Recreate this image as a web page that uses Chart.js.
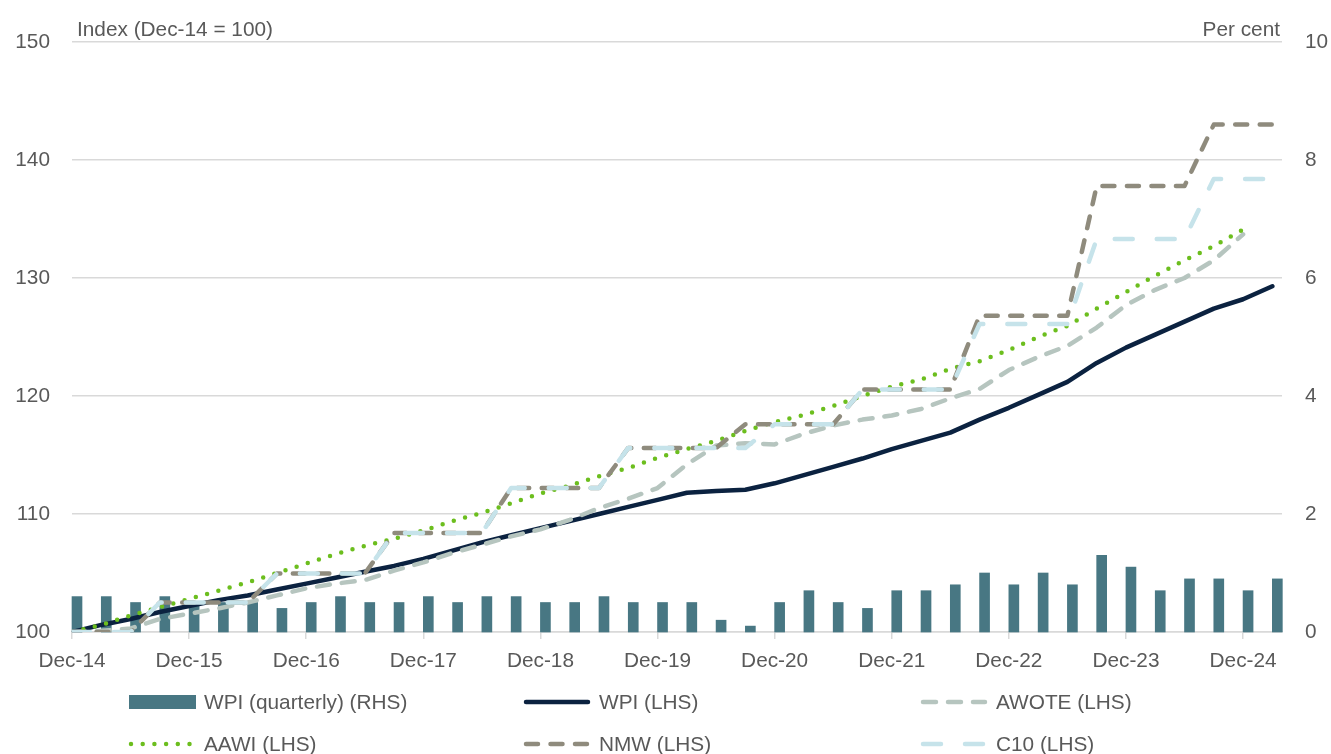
<!DOCTYPE html>
<html>
<head>
<meta charset="utf-8">
<script src="https://cdn.jsdelivr.net/npm/chart.js@4.4.1/dist/chart.umd.min.js"></script>
<style>
  html, body { margin: 0; padding: 0; background: #ffffff; }
  #wrap { position: relative; width: 1331px; height: 754px; }
</style>
</head>
<body>
<div id="wrap"><canvas id="c" width="1331" height="754"></canvas></div>
<script>
// ---------- DATA ----------
const quarters = [
  'Dec-14','Mar-15','Jun-15','Sep-15','Dec-15','Mar-16','Jun-16','Sep-16','Dec-16',
  'Mar-17','Jun-17','Sep-17','Dec-17','Mar-18','Jun-18','Sep-18','Dec-18',
  'Mar-19','Jun-19','Sep-19','Dec-19','Mar-20','Jun-20','Sep-20','Dec-20',
  'Mar-21','Jun-21','Sep-21','Dec-21','Mar-22','Jun-22','Sep-22','Dec-22',
  'Mar-23','Jun-23','Sep-23','Dec-23','Mar-24','Jun-24','Sep-24','Dec-24','Mar-25'
];
const tickLabels = ['Dec-14','Dec-15','Dec-16','Dec-17','Dec-18','Dec-19','Dec-20','Dec-21','Dec-22','Dec-23','Dec-24'];

const wpiQuarterly = [0.6,0.6,0.5,0.6,0.5,0.5,0.5,0.4,0.5,0.6,0.5,0.5,0.6,0.5,0.6,0.6,0.5,0.5,0.6,0.5,0.5,
                      0.5,0.2,0.1,0.5,0.7,0.5,0.4,0.7,0.7,0.8,1.0,0.8,1.0,0.8,1.3,1.1,0.7,0.9,0.9,0.7,0.9];
const wpi   = [100,100.6,101.1,101.7,102.2,102.7,103.1,103.6,104.1,104.6,105.1,105.6,106.2,106.9,107.6,108.2,
               108.8,109.4,110.0,110.6,111.2,111.8,111.95,112.05,112.6,113.3,114.0,114.7,115.5,116.2,116.9,
               118.0,119.0,120.1,121.2,122.8,124.1,125.2,126.3,127.4,128.2,129.3];
const awote = [100,100.1,100.3,101.1,101.55,102.0,102.5,103.1,103.7,104.1,104.4,105.2,105.9,106.7,107.4,108.1,
               108.7,109.5,110.5,111.3,112.2,114.2,115.8,116.0,115.9,116.8,117.5,118.0,118.35,118.9,119.8,
               120.6,122.2,123.3,124.25,125.8,127.7,129.0,130.0,131.5,133.7,null];
const aawi  = [100,100.6,101.4,102.1,102.8,103.5,104.2,105.0,105.8,106.6,107.3,107.9,108.6,109.4,110.1,110.9,
               111.75,112.4,113.2,113.9,114.75,115.5,116.2,117.05,117.8,118.4,119.15,120.0,120.8,121.4,122.3,
               122.95,123.9,125.0,125.95,127.4,128.8,130.2,131.5,132.7,134.1,null];
const nmw   = [100,100,100,102.5,102.5,102.5,102.5,104.95,104.95,104.95,104.95,108.4,108.4,108.4,108.4,
               112.2,112.2,112.2,112.2,115.6,115.6,115.6,115.6,117.6,117.6,117.6,117.6,120.55,120.55,120.55,120.55,
               126.8,126.8,126.8,126.8,137.8,137.8,137.8,137.8,143.0,143.0,143.0];
const c10   = [100,100,100,102.5,102.5,102.5,102.5,104.95,104.95,104.95,104.95,108.4,108.4,108.4,108.4,
               112.2,112.2,112.2,112.2,115.6,115.6,115.6,115.6,115.6,117.6,117.6,117.6,120.55,120.55,120.55,120.55,
               126.1,126.1,126.1,126.1,133.3,133.3,133.3,133.3,138.4,138.4,138.4];

const leftTitle = 'Index (Dec-14 = 100)';
const rightTitle = 'Per cent';

// ---------- STYLE ----------
const FONT = '"Liberation Sans", Arial, sans-serif';
const FS = 20.8;
const TXT = '#595959';
const GRID = '#D9D9D9';
const BAR_SHIFT_PX = 5;   // bars sit just right of each quarter's point, as in the original

const pts = arr => arr.map((v, i) => ({ x: i, y: v }));
const tickIdx = tickLabels.map(t => quarters.indexOf(t));

Chart.defaults.font.family = FONT;
Chart.defaults.font.size = FS;
Chart.defaults.color = TXT;

const lineBase = { type: 'line', pointRadius: 0, pointHoverRadius: 0, borderWidth: 4.5, tension: 0,
                   yAxisID: 'y', xAxisID: 'x', fill: false, borderJoinStyle: 'round', borderCapStyle: 'round' };

const datasets = [
  { type: 'bar', label: 'WPI (quarterly) (RHS)', data: pts(wpiQuarterly), backgroundColor: '#487783',
    barThickness: 10, yAxisID: 'y1', xAxisID: 'x', order: 10, clip: false },
  { ...lineBase, label: 'WPI (LHS)', data: pts(wpi), borderColor: '#0B2240', order: 6 },
  { ...lineBase, label: 'AWOTE (LHS)', data: pts(awote), borderColor: '#B6C5BF', borderDash: [13, 12], order: 5 },
  { ...lineBase, label: 'AAWI (LHS)', data: pts(aawi), borderColor: '#6CBE1E', borderDash: [0, 11.7], order: 4 },
  { ...lineBase, label: 'NMW (LHS)', data: pts(nmw), borderColor: '#8F8B7D', borderDash: [12, 12.5], order: 3 },
  { ...lineBase, label: 'C10 (LHS)', data: pts(c10), borderColor: '#C6E3EA', borderDash: [18, 24], order: 2 }
];

const legendCols = [129, 524, 921];
const legendRows = [702, 744];

const barShift = {
  id: 'barShift',
  beforeDatasetDraw(chart, args) {
    if (args.meta.type === 'bar') { chart.ctx.save(); chart.ctx.translate(BAR_SHIFT_PX, 0); }
  },
  afterDatasetDraw(chart, args) {
    if (args.meta.type === 'bar') { chart.ctx.restore(); }
  }
};

const overlay = {
  id: 'overlay',
  afterDraw(chart) {
    const ctx = chart.ctx;
    ctx.save();
    ctx.font = FS + 'px ' + FONT;
    ctx.fillStyle = TXT;
    ctx.textBaseline = 'alphabetic';
    ctx.textAlign = 'left';
    ctx.fillText(leftTitle, 77, 36);
    ctx.textAlign = 'right';
    ctx.fillText(rightTitle, 1280, 36);
    ctx.textAlign = 'left';
    chart.data.datasets.forEach((ds, k) => {
      const x = legendCols[k % 3];
      const y = legendRows[Math.floor(k / 3)];
      if (ds.type === 'bar') {
        ctx.fillStyle = ds.backgroundColor;
        ctx.fillRect(x, y - 7, 67, 14);
      } else {
        ctx.strokeStyle = ds.borderColor;
        ctx.lineWidth = ds.borderWidth;
        ctx.lineCap = ds.borderCapStyle || 'butt';
        ctx.setLineDash(ds.borderDash || []);
        ctx.beginPath();
        ctx.moveTo(x + 2, y);
        ctx.lineTo(x + 64, y);
        ctx.stroke();
        ctx.setLineDash([]);
      }
      ctx.fillStyle = TXT;
      ctx.fillText(ds.label, x + 75, y + 7);
    });
    ctx.restore();
  }
};

new Chart(document.getElementById('c').getContext('2d'), {
  data: { datasets },
  options: {
    responsive: false,
    animation: false,
    devicePixelRatio: 1,
    layout: { padding: { top: 42, left: 0, right: 0, bottom: 0 } },
    plugins: { legend: { display: false }, tooltip: { enabled: false } },
    scales: {
      x: {
        type: 'linear', position: 'bottom', min: 0, max: 41.33, offset: false,
        afterBuildTicks: s => { s.ticks = tickIdx.map(v => ({ value: v })); },
        ticks: { callback: v => quarters[v], color: TXT, font: { size: FS }, padding: 10,
                 maxRotation: 0, autoSkip: false },
        grid: { drawOnChartArea: false, color: GRID, lineWidth: 1.5, tickLength: 7, offset: false },
        border: { display: true, color: GRID, width: 1.5 },
        afterFit: s => { s.height = 122; }
      },
      y: {
        position: 'left', min: 100, max: 150,
        ticks: { stepSize: 10, color: TXT, font: { size: FS }, padding: 22 },
        grid: { color: GRID, lineWidth: 1.5, drawTicks: false },
        border: { display: false },
        afterFit: s => { s.width = 72; }
      },
      y1: {
        position: 'right', min: 0, max: 10,
        ticks: { stepSize: 2, color: TXT, font: { size: FS }, padding: 23 },
        grid: { display: false, drawTicks: false },
        border: { display: false },
        afterFit: s => { s.width = 49; }
      }
    }
  },
  plugins: [barShift, overlay]
});
</script>
</body>
</html>
